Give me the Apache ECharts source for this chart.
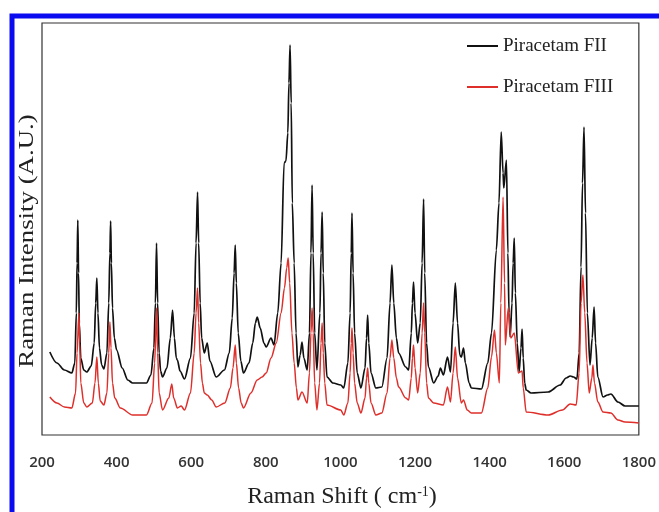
<!DOCTYPE html>
<html>
<head>
<meta charset="utf-8">
<script src="https://cdn.jsdelivr.net/npm/echarts@6/dist/echarts.min.js"></script>
<style>html,body{margin:0;padding:0;background:#fff;}#c{width:659px;height:512px;}</style>
</head>
<body>
<div id="c"></div>
<script>
var xTicks = [200, 400, 600, 800, 1000, 1200, 1400, 1600, 1800];
var seriesNames = ['Piracetam FII', 'Piracetam FIII'];

var fiiShift = [221,240,260,280,288,292,294,296,298,300,304,312,320,332,340,344,347,350,354,360,366,374,379,382,384,386,389,394,400,415,430,443,480,492,500,504,507,510,514,518,523,535,544,550,555,560,563,570,582,598,608,613,617,620,624,628,635,643,650,667,689,702,710,715,718,721,726,733,740,755,765,772,777,785,795,801,814,822,832,841,849,854,859,862,865,868,871,876,881,886,892,897,902,911,917,921,924,927,931,937,945,948,951,954,958,964,980,1001,1009,1020,1026,1029,1031,1034,1038,1045,1055,1066,1070,1073,1076,1082,1095,1111,1125,1133,1138,1143,1150,1156,1175,1183,1190,1193,1196,1200,1207,1214,1219,1223,1226,1231,1236,1250,1262,1268,1276,1287,1295,1302,1308,1314,1320,1324,1330,1335,1345,1351,1378,1395,1405,1418,1425,1431,1436,1438,1445,1449,1452,1455,1460,1463,1466,1469,1474,1479,1484,1487,1490,1494,1498,1511,1557,1589,1605,1616,1625,1634,1640,1645,1649,1653,1657,1662,1669,1675,1680,1684,1690,1704,1716,1725,1744,1763,1800];
var fiiIntensity = [81,70,63,60,70,120,170,213,160,110,75,63,61,67,90,130,155,120,85,68,64,80,130,180,212,170,125,95,83,65,53,50,50,58,85,130,190,130,80,62,56,65,95,123,95,75,73,62,54,75,120,190,241,190,130,95,80,90,72,56,63,80,115,160,188,150,100,72,60,70,90,110,116,105,90,86,95,88,120,170,270,272,300,350,388,330,230,170,100,66,78,91,75,63,100,180,248,180,100,63,120,180,221,160,90,56,50,48,45,70,120,180,220,160,100,60,45,65,95,118,90,60,45,46,75,130,168,130,95,80,66,63,100,130,151,120,90,110,170,234,160,90,66,50,57,65,58,76,61,110,150,110,78,76,85,70,50,45,44,70,100,183,230,301,260,245,273,180,120,96,130,170,195,140,90,61,85,104,75,50,43,40,41,48,55,57,56,54,80,166,250,306,220,120,68,95,126,90,56,36,38,39,31,27,27];

var fiiiShift = [221,240,260,280,290,294,299,301,304,312,320,335,342,347,351,356,366,374,379,382,385,389,395,410,443,480,495,502,507,510,514,523,540,548,553,563,573,582,598,608,613,617,620,625,630,635,643,655,667,690,705,712,718,721,727,734,740,760,777,790,801,814,828,841,850,856,860,864,870,876,882,886,897,911,917,921,924,927,931,937,944,948,951,954,958,964,1001,1009,1020,1026,1029,1031,1034,1038,1045,1055,1066,1070,1073,1076,1082,1095,1111,1125,1133,1138,1143,1150,1156,1175,1183,1190,1193,1196,1200,1207,1214,1219,1223,1226,1231,1236,1250,1276,1287,1295,1302,1308,1314,1324,1330,1340,1351,1378,1395,1405,1413,1418,1426,1430,1436,1440,1442,1450,1457,1466,1477,1487,1490,1498,1557,1595,1616,1632,1640,1645,1650,1655,1661,1667,1674,1677,1681,1690,1704,1725,1744,1763,1800];
var fiiiIntensity = [36,30,26,25,40,80,120,90,50,30,26,30,50,76,50,32,28,40,80,111,85,50,35,25,18,18,30,70,125,80,40,23,35,49,35,25,27,23,40,80,120,145,110,70,50,40,38,33,26,30,45,65,88,70,45,30,25,40,53,56,60,75,90,120,145,165,175,150,100,70,45,33,41,30,60,100,125,100,50,23,50,90,110,80,50,28,23,18,30,60,90,105,80,50,30,20,35,55,65,50,30,18,20,40,75,93,75,55,46,35,33,55,75,88,65,40,60,100,130,100,50,35,30,28,46,31,60,86,55,30,33,23,20,20,45,76,103,80,50,130,236,150,88,125,95,100,60,62,45,21,18,23,29,28,60,130,158,120,70,40,55,68,50,31,21,20,13,11,10];

function pairs(xs, ys) { return xs.map(function (x, i) { return [x, ys[i]]; }); }

var chart = echarts.init(document.getElementById('c'), null, { renderer: 'canvas' });
chart.setOption({
  animation: false,
  backgroundColor: '#fff',
  grid: { left: 42, right: 18, top: 23, bottom: 77, show: true, borderColor: '#333', borderWidth: 1.2, backgroundColor: 'transparent' },
  legend: {
    orient: 'vertical', left: 462, top: 31,
    itemWidth: 31, itemHeight: 2, itemGap: 21, icon: 'rect',
    textStyle: { fontFamily: 'Liberation Serif', fontSize: 19, color: '#222', lineHeight: 20 },
    data: seriesNames
  },
  xAxis: {
    type: 'value', min: 200, max: 1800, interval: 200,
    axisLine: { show: false }, axisTick: { show: false }, splitLine: { show: false },
    axisLabel: { showMinLabel: true, showMaxLabel: true, margin: 20, fontFamily: 'Open Sans', fontWeight: 600, fontSize: 15, color: '#333',
      formatter: function (v) { return xTicks.indexOf(v) >= 0 ? String(v) : ''; } }
  },
  yAxis: {
    type: 'value', min: -2, max: 410,
    axisLine: { show: false }, axisTick: { show: false }, splitLine: { show: false }, axisLabel: { show: false }
  },
  series: [
    { name: seriesNames[0], type: 'line', data: pairs(fiiShift, fiiIntensity), showSymbol: false, smooth: 0.3, smoothMonotone: 'x',
      lineStyle: { color: '#111', width: 1.7 }, itemStyle: { color: '#111' }, z: 3 },
    { name: seriesNames[1], type: 'line', data: pairs(fiiiShift, fiiiIntensity), showSymbol: false, smooth: 0.3, smoothMonotone: 'x',
      lineStyle: { color: '#de2f2b', width: 1.5 }, itemStyle: { color: '#de2f2b' }, z: 4 }
  ],
  graphic: [
    { type: 'rect', shape: { x: 12, y: 16, width: 800, height: 700 }, style: { fill: 'none', stroke: '#0b0bef', lineWidth: 5 }, silent: true, z: 0 },
    { type: 'text', x: 27, y: 241, rotation: Math.PI / 2, scaleX: 1.22, scaleY: 1,
      style: { text: 'Raman Intensity (A.U.)', fontFamily: 'Liberation Serif', fontSize: 22, fill: '#222', textAlign: 'center', textVerticalAlign: 'middle' } },
    { type: 'text', x: 342, y: 497,
      style: { text: 'Raman Shift ( cm{s|-1})', fontFamily: 'Liberation Serif', fontSize: 24, fill: '#222', textAlign: 'center', textVerticalAlign: 'middle',
        rich: { s: { fontFamily: 'Liberation Serif', fontSize: 14, verticalAlign: 'top', padding: [0, 0, 10, 0], fill: '#222' } } } }
  ]
});
</script>
</body>
</html>
